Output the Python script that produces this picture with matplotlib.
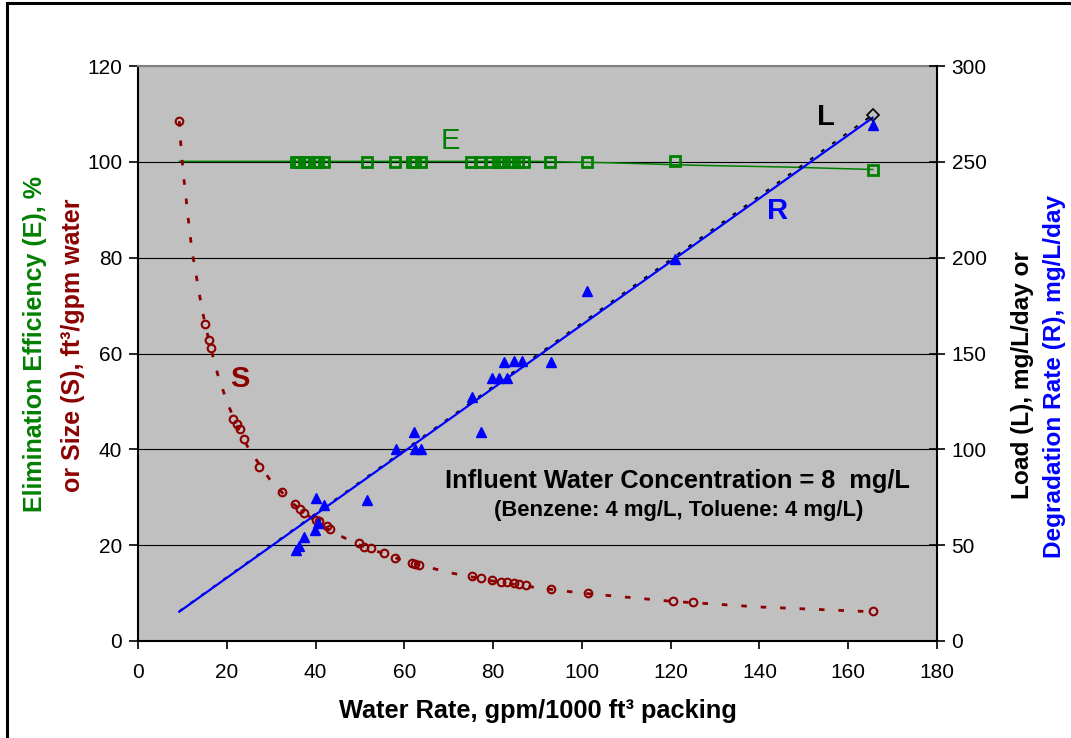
import matplotlib
matplotlib.use("Agg")
import matplotlib.pyplot as plt
from matplotlib.patches import Rectangle

plt.rcParams['font.family'] = ['Liberation Sans', 'DejaVu Sans']

# --- data ---
S_x = [9.3, 15.1, 15.9, 16.4, 21.5, 22.3, 23.0, 23.8, 27.2, 32.4, 35.4, 36.6, 37.3,
       40.0, 40.7, 42.6, 43.3, 49.7, 50.9, 52.4, 55.4, 57.9, 61.8, 62.5, 63.3, 75.3,
       77.2, 79.8, 81.7, 83.2, 84.7, 85.8, 87.4, 93.0, 101.3, 120.5, 125.0, 165.5]
S = [108.5, 66.2, 62.9, 61.1, 46.3, 45.2, 44.2, 42.1, 36.4, 31.1, 28.5, 27.6, 26.7,
     25.3, 25.0, 23.9, 23.4, 20.5, 19.7, 19.4, 18.4, 17.3, 16.3, 16.1, 15.9, 13.5,
     13.1, 12.8, 12.4, 12.3, 12.1, 11.9, 11.6, 10.8, 10.0, 8.4, 8.2, 6.2]

S_fit_x = [9.3, 9.6, 10.2, 10.8, 11.2, 11.7, 12.1, 13.0, 13.6, 14.4, 15.1, 16.4, 18.0,
           20.0, 22.5, 25.0, 30.0, 35.0, 40.0, 45.0, 50.0, 60.0, 70.0, 80.0, 90.0,
           100.0, 120.0, 140.0, 165.5]
S_fit = [108.5, 104.2, 97.5, 92.7, 89.0, 85.2, 81.8, 77.0, 73.5, 69.5, 66.2, 61.1, 55.5,
         50.0, 44.4, 40.0, 33.3, 28.6, 25.0, 22.2, 20.0, 16.7, 14.3, 12.5, 11.1,
         10.0, 8.3, 7.1, 6.1]

E_x = [35.5, 36.2, 37.5, 38.5, 39.8, 40.5, 42.0, 51.5, 58.0, 61.8, 62.5, 63.7, 75.0,
       77.0, 79.5, 81.0, 82.5, 84.0, 85.5, 87.0, 92.8, 101.1, 121.0, 165.5]
E = [100.0, 100.0, 100.0, 100.0, 100.0, 100.0, 100.0, 100.0, 100.0, 100.0, 100.0, 100.0,
     100.0, 100.0, 100.0, 100.0, 100.0, 100.0, 100.0, 100.0, 100.0, 100.0, 100.2, 98.3]

E_fit_x = [9.3, 60.0, 90.0, 106.5, 124.6, 146.6, 165.5]
E_fit = [100.1, 100.1, 100.1, 99.8, 99.3, 98.9, 98.4]

R_x = [35.7, 36.2, 37.5, 39.8, 40.2, 40.5, 42.0, 51.5, 58.2, 62.1, 62.5, 63.7, 75.3,
       77.2, 79.8, 81.3, 83.1, 82.5, 84.6, 86.6, 93.0, 101.1, 121.0, 165.5]
R = [47.3, 49.4, 54.3, 57.8, 74.7, 61.6, 70.7, 73.8, 100.4, 109.3, 100.0, 100.4, 127.4,
     109.1, 137.0, 137.0, 137.0, 145.7, 146.2, 146.2, 145.7, 182.4, 199.5, 269.3]

R_fit_x = [9.3, 165.5]
R_fit = [15.3, 273.0]

L_x = [9.3, 165.5]
L = [15.5, 274.5]

DARKRED = '#8C0000'
GREEN = '#008000'
BLUE = '#0000FF'

W, H = 1071, 738
fig = plt.figure(figsize=(W / 100, H / 100), dpi=100)
ax = fig.add_axes([138 / W, 1 - 641 / H, 799 / W, 575 / H])
ax.set_facecolor('#C0C0C0')

# left axis: E and S
ax.plot(E_fit_x, E_fit, color=GREEN, lw=1.1, zorder=3)
ax.plot(E_x, E, 's', ms=7, mfc='none', mec=GREEN, mew=2, zorder=4)
ax.plot(S_fit_x, S_fit, color=DARKRED, lw=2, dashes=(2, 5), zorder=3)
ax.plot(S_x, S, 'o', ms=5.5, mfc='none', mec=DARKRED, mew=1.5, zorder=4)

ax.set_xlim(0, 180)
ax.set_ylim(0, 120)
ax.set_xticks(range(0, 181, 20))
ax.set_yticks(range(0, 121, 20))
ax.yaxis.grid(True, color='black', lw=0.8)
ax.set_axisbelow(True)
ax.tick_params(axis='y', direction='out', length=6.5, width=1.2, labelsize=15, pad=5)
ax.tick_params(axis='x', direction='out', length=6, width=1.2, labelsize=15, pad=10)
for side in ('left', 'bottom'):
    ax.spines[side].set_linewidth(1.5)
ax.spines['top'].set_color('#808080')
ax.spines['top'].set_linewidth(1.5)
ax.spines['right'].set_visible(False)

# right axis: L and R
ax2 = ax.twinx()
ax2.plot(L_x, L, color='black', lw=1.4, dashes=(2, 5), zorder=3)
ax2.plot(L_x[-1:], L[-1:], 'D', ms=6, mfc='none', mec='black', mew=1.2, zorder=5)
ax2.plot(R_fit_x, R_fit, color=BLUE, lw=1.6, zorder=4)
ax2.plot(R_x, R, '^', ms=7.5, color=BLUE, zorder=5)
ax2.set_ylim(0, 300)
ax2.set_yticks(range(0, 301, 50))
ax2.tick_params(axis='y', direction='inout', length=11, width=1.2, labelsize=15, pad=5)
ax2.spines['right'].set_linewidth(1.5)
for side in ('left', 'top', 'bottom'):
    ax2.spines[side].set_visible(False)

# series letters
ax.text(70.4, 102.7, 'E', color=GREEN, fontsize=21, ha='center', va='baseline')
ax.text(23.0, 53.0, 'S', color=DARKRED, fontsize=21, fontweight='bold', ha='center', va='baseline')
ax.text(154.9, 107.7, 'L', color='black', fontsize=21, fontweight='bold', ha='center', va='baseline')
ax.text(144.0, 88.0, 'R', color=BLUE, fontsize=21, fontweight='bold', ha='center', va='baseline')

ax.text(121.5, 31.9, 'Influent Water Concentration = 8  mg/L', fontsize=18.3,
        fontweight='bold', ha='center', va='baseline')
ax.text(121.7, 26.1, '(Benzene: 4 mg/L, Toluene: 4 mg/L)', fontsize=15.8,
        fontweight='bold', ha='center', va='baseline')

# axis titles
fig.text(538 / W, 1 - 718 / H, 'Water Rate, gpm/1000 ft³ packing', fontsize=18.3,
         fontweight='bold', ha='center', va='baseline')
fig.text(35 / W, 1 - 344 / H, 'Elimination Efficiency (E), %', color=GREEN, fontsize=18,
         fontweight='bold', rotation=90, ha='center', va='center')
fig.text(73 / W, 1 - 345 / H, 'or Size (S), ft³/gpm water', color=DARKRED, fontsize=18,
         fontweight='bold', rotation=90, ha='center', va='center')
fig.text(1022 / W, 1 - 375 / H, 'Load (L), mg/L/day or', color='black', fontsize=17.6,
         fontweight='bold', rotation=90, ha='center', va='center')
fig.text(1055 / W, 1 - 377 / H, 'Degradation Rate (R), mg/L/day', color=BLUE, fontsize=17.6,
         fontweight='bold', rotation=90, ha='center', va='center')

# outer chart border
fig.add_artist(Rectangle((7 / W, -0.05), 1.2, 1.05 - 3 / H, transform=fig.transFigure,
                         fill=False, edgecolor='black', lw=2.2))

fig.savefig('out.png', dpi=100, facecolor='white')
